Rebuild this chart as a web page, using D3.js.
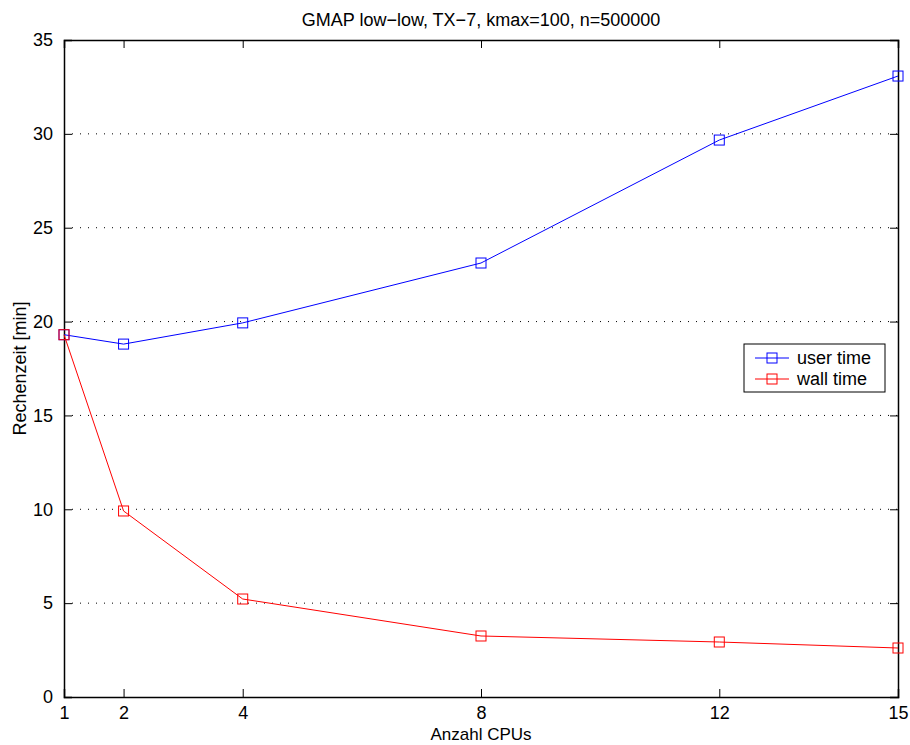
<!DOCTYPE html>
<html>
<head>
<meta charset="utf-8">
<script src="https://cdn.jsdelivr.net/npm/d3@7"></script>
<style>
body { margin: 0; background: #fff; }
text { font-family: "Liberation Sans", Arial, sans-serif; fill: #000; }
</style>
</head>
<body>
<div id="chart"></div>
<script>
// Daten
var cpus = [1, 2, 4, 8, 12, 15];
var userTime = [19.3, 18.8, 19.93, 23.12, 29.67, 33.08];
var wallTime = [19.3, 9.91, 5.22, 3.25, 2.93, 2.61];
var yTicks = [0, 5, 10, 15, 20, 25, 30, 35];
var seriesNames = ['user time', 'wall time'];
var seriesColors = ['#0000ff', '#ff0000'];

var W = 910, H = 745;
var m = {left: 64, right: 12, top: 40, bottom: 48};
var pw = W - m.left - m.right, ph = H - m.top - m.bottom;

var svg = d3.select('#chart').append('svg')
    .attr('width', W).attr('height', H);

var x = d3.scaleLinear().domain([1, 15]).range([0, pw]);
var y = d3.scaleLinear().domain([0, 35]).range([ph, 0]);

var g = svg.append('g').attr('transform', 'translate(' + m.left + ',' + m.top + ')');

// Gitterlinien
g.selectAll('.grid').data(yTicks.slice(1, -1)).enter().append('line')
    .attr('x1', 0).attr('x2', pw)
    .attr('y1', function (d) { return y(d); })
    .attr('y2', function (d) { return y(d); })
    .attr('stroke', '#000').attr('stroke-width', 1)
    .attr('stroke-dasharray', '1,7');

// Achsen, Ticks nach innen
var xAxis = d3.axisBottom(x).tickValues(cpus).tickSize(-8).tickPadding(9).tickFormat(d3.format('d'));
var yAxis = d3.axisLeft(y).tickValues(yTicks).tickSize(-8).tickPadding(11);
g.append('g').attr('transform', 'translate(0,' + ph + ')').call(xAxis);
g.append('g').call(yAxis);
g.append('g').call(d3.axisTop(x).tickValues(cpus).tickSize(-8).tickFormat(''));
g.append('g').attr('transform', 'translate(' + pw + ',0)')
    .call(d3.axisRight(y).tickValues(yTicks).tickSize(-8).tickFormat(''));
g.selectAll('.domain').attr('stroke', '#000').attr('stroke-width', 1.5);
g.selectAll('.tick line').attr('stroke', '#000');
g.selectAll('.tick text').style('font-size', '18px');

var line = d3.line()
    .x(function (d, i) { return x(cpus[i]); })
    .y(function (d) { return y(d); });

[userTime, wallTime].forEach(function (s, k) {
    g.append('path').datum(s)
        .attr('d', line).attr('fill', 'none')
        .attr('stroke', seriesColors[k]).attr('stroke-width', 1);
    g.selectAll('.mk' + k).data(s).enter().append('rect')
        .attr('x', function (d, i) { return x(cpus[i]) - 5; })
        .attr('y', function (d) { return y(d) - 5; })
        .attr('width', 10).attr('height', 10)
        .attr('fill', 'none').attr('stroke', seriesColors[k]).attr('stroke-width', 1);
});

// Beschriftung
svg.append('text').attr('x', m.left + pw / 2).attr('y', 26)
    .attr('text-anchor', 'middle').style('font-size', '18px')
    .text('GMAP low\u2212low, TX\u22127, kmax=100, n=500000');
svg.append('text').attr('x', m.left + pw / 2).attr('y', 740)
    .attr('text-anchor', 'middle').style('font-size', '17px')
    .text('Anzahl CPUs');
svg.append('text').attr('transform', 'translate(26,' + (m.top + ph / 2) + ') rotate(-90)')
    .attr('text-anchor', 'middle').style('font-size', '18px')
    .text('Rechenzeit [min]');

// Legende
var lg = svg.append('g').attr('transform', 'translate(744,344)');
lg.append('rect').attr('width', 141).attr('height', 48)
    .attr('fill', '#fff').attr('stroke', '#000').attr('stroke-width', 1);
seriesNames.forEach(function (n, k) {
    var yy = 14 + k * 21;
    lg.append('line').attr('x1', 11).attr('x2', 45).attr('y1', yy).attr('y2', yy)
        .attr('stroke', seriesColors[k]);
    lg.append('rect').attr('x', 23).attr('y', yy - 5).attr('width', 10).attr('height', 10)
        .attr('fill', 'none').attr('stroke', seriesColors[k]);
    lg.append('text').attr('x', 53).attr('y', yy + 6).style('font-size', '18px').text(n);
});
</script>
</body>
</html>
